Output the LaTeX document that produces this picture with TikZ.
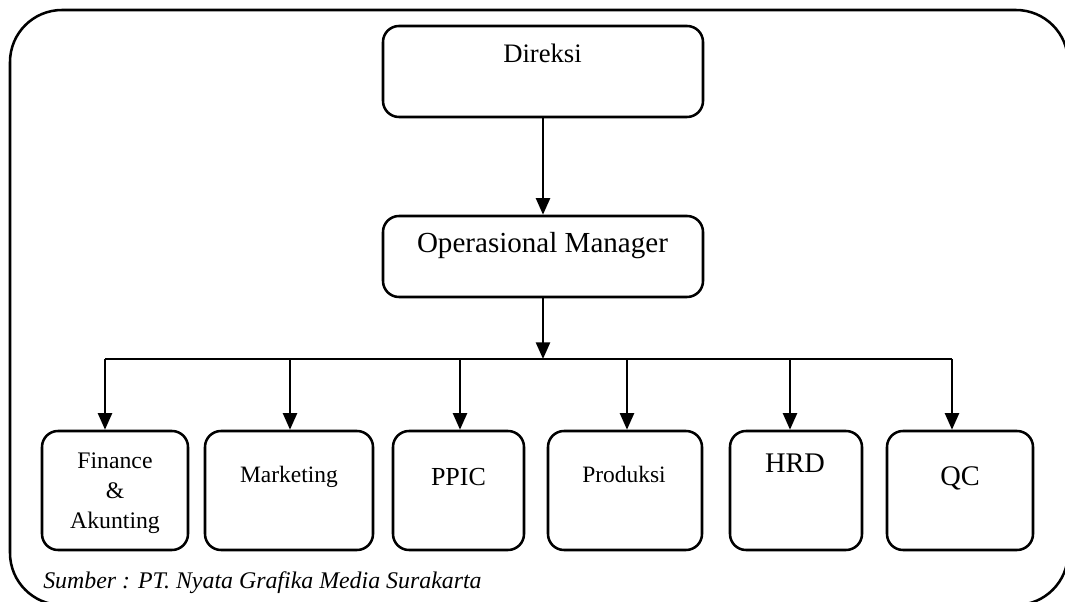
\documentclass[tikz,border=0pt]{standalone}
\usepackage{fontspec}
\setmainfont{Liberation Serif}
\usetikzlibrary{arrows.meta,fit}
\begin{document}
\begin{tikzpicture}[x=0.75pt,y=-0.75pt,
  lw/.style={line width=1.9pt},
  box/.style={draw,lw,rounded corners=12pt,inner sep=0pt},
  arr/.style={lw,-{Triangle[length=12.5pt,width=10.5pt]}},
  lbl/.style={anchor=base,inner sep=0pt,align=center}]
\useasboundingbox (0,0) rectangle (1065,602);
\draw[lw,rounded corners=39pt] (10,10) rectangle (1068,605);
% boxes
\node[box,fit={(383,26) (703,117)}] (dir) {};
\node[box,fit={(383,216) (703,297)}] (om) {};
\node[box,fit={(42,431) (188,550)}] (fin) {};
\node[box,fit={(205,431) (373,550)}] (mkt) {};
\node[box,fit={(393,431) (524,550)}] (ppic) {};
\node[box,fit={(548,431) (702,550)}] (prod) {};
\node[box,fit={(730,431) (862,550)}] (hrd) {};
\node[box,fit={(887,431) (1033,550)}] (qc) {};
% labels
\node[lbl,font=\fontsize{20}{24}\selectfont] (tdir) at (542.5,63) {Direksi};
\node[lbl,font=\fontsize{21.8}{26}\selectfont] (tom) at (542.5,253) {Operasional Manager};
\node[lbl,font=\fontsize{17.8}{22.5}\selectfont] (tfin) at (115,528) {Finance\\\&\\Akunting};
\node[lbl,font=\fontsize{17.6}{22}\selectfont] (tmkt) at (289,483) {Marketing};
\node[lbl,font=\fontsize{19.5}{24}\selectfont] (tppic) at (458.5,485) {PPIC};
\node[lbl,font=\fontsize{17.6}{22}\selectfont] (tprod) at (624,483) {Produksi};
\node[lbl,font=\fontsize{21.3}{26}\selectfont] (thrd) at (795,473) {HRD};
\node[lbl,font=\fontsize{21.3}{26}\selectfont] (tqc) at (960,485) {QC};
\node[anchor=base west,inner sep=0pt,font=\fontsize{17.9}{21}\selectfont\itshape] (src) at (43,588) {Sumber : PT. Nyata Grafika Media Surakarta};
% connectors
\coordinate (bus) at (543,359);
\coordinate (b1) at (105,359);
\coordinate (b2) at (290,359);
\coordinate (b3) at (460,359);
\coordinate (b4) at (627,359);
\coordinate (b5) at (790,359);
\coordinate (b6) at (952,359);
\draw[arr] (dir.south) -- (om.north);
\draw[arr] (om.south) -- (bus);
\draw[lw] (b1) -- (b6);
\draw[arr] (b1) -- (b1 |- fin.north);
\draw[arr] (b2) -- (b2 |- mkt.north);
\draw[arr] (b3) -- (b3 |- ppic.north);
\draw[arr] (b4) -- (b4 |- prod.north);
\draw[arr] (b5) -- (b5 |- hrd.north);
\draw[arr] (b6) -- (b6 |- qc.north);
\end{tikzpicture}
\end{document}
